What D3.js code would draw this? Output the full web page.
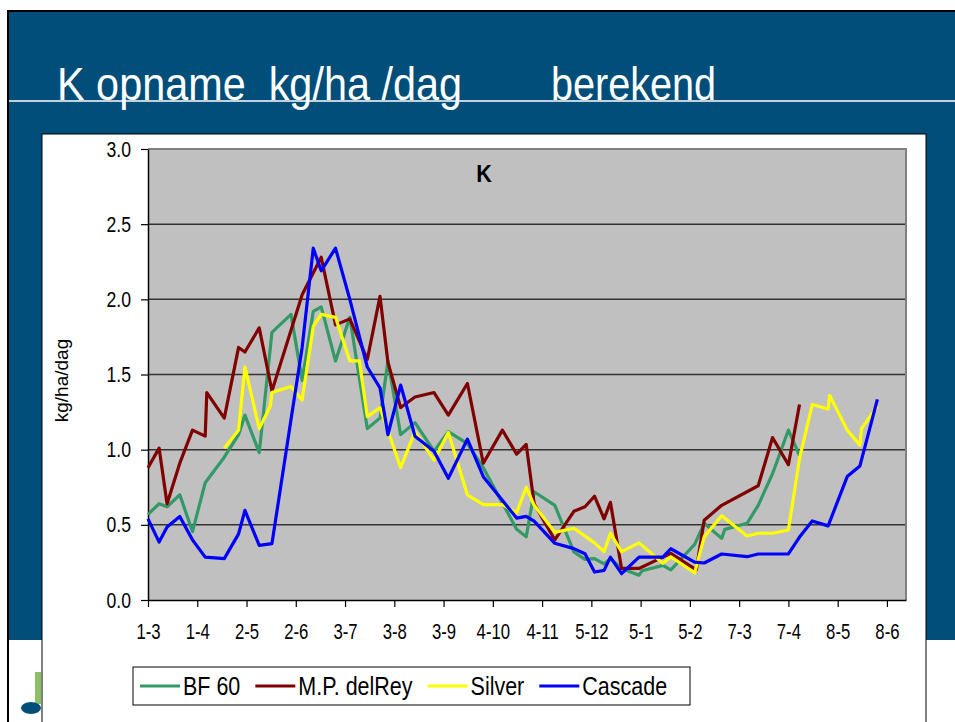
<!DOCTYPE html>
<html>
<head>
<meta charset="utf-8">
<script src="https://cdn.jsdelivr.net/npm/d3@7"></script>
<style>
  body { margin: 0; background: #ffffff; }
  svg { display: block; }
</style>
</head>
<body>
<div id="k_chart"></div>
<script>
// series, [date, kg/ha/dag]
const bf60 = [
    ['2007-03-01', 0.57], ['2007-03-08', 0.64], ['2007-03-13', 0.62], ['2007-03-21', 0.70],
    ['2007-03-29', 0.455], ['2007-04-06', 0.78], ['2007-04-18', 0.95], ['2007-04-27', 1.10],
    ['2007-05-01', 1.23], ['2007-05-10', 0.98], ['2007-05-18', 1.78], ['2007-05-30', 1.90],
    ['2007-06-06', 1.46], ['2007-06-13', 1.92], ['2007-06-18', 1.95], ['2007-06-27', 1.59],
    ['2007-07-06', 1.88], ['2007-07-17', 1.14], ['2007-07-25', 1.21], ['2007-07-30', 1.59],
    ['2007-08-07', 1.10], ['2007-08-16', 1.18], ['2007-08-28', 0.99], ['2007-09-06', 1.12],
    ['2007-09-18', 1.04], ['2007-09-28', 0.88], ['2007-10-19', 0.47], ['2007-10-25', 0.42],
    ['2007-10-30', 0.72], ['2007-11-12', 0.63], ['2007-11-24', 0.32], ['2007-12-01', 0.27],
    ['2007-12-07', 0.275], ['2007-12-13', 0.24], ['2007-12-17', 0.275], ['2007-12-24', 0.21],
    ['2008-01-04', 0.165], ['2008-01-06', 0.195], ['2008-01-19', 0.23], ['2008-01-24', 0.20],
    ['2008-02-08', 0.37], ['2008-02-14', 0.51], ['2008-02-25', 0.41], ['2008-02-27', 0.47],
    ['2008-03-12', 0.51], ['2008-03-19', 0.63], ['2008-03-28', 0.84], ['2008-04-07', 1.13],
    ['2008-04-14', 0.96]
];

const delRey = [
    ['2007-03-01', 0.88], ['2007-03-08', 1.01], ['2007-03-13', 0.64], ['2007-03-21', 0.91],
    ['2007-03-29', 1.13], ['2007-04-06', 1.09], ['2007-04-07', 1.38], ['2007-04-18', 1.21],
    ['2007-04-27', 1.68], ['2007-05-01', 1.65], ['2007-05-10', 1.81], ['2007-05-18', 1.39],
    ['2007-06-06', 2.03], ['2007-06-18', 2.28], ['2007-06-27', 1.83], ['2007-07-06', 1.87],
    ['2007-07-17', 1.60], ['2007-07-25', 2.02], ['2007-07-30', 1.58], ['2007-08-07', 1.28],
    ['2007-08-16', 1.35], ['2007-08-28', 1.38], ['2007-09-06', 1.23], ['2007-09-18', 1.44],
    ['2007-09-28', 0.91], ['2007-10-10', 1.13], ['2007-10-19', 0.97], ['2007-10-25', 1.035],
    ['2007-10-30', 0.64], ['2007-11-12', 0.40], ['2007-11-24', 0.59], ['2007-12-01', 0.62],
    ['2007-12-07', 0.69], ['2007-12-13', 0.54], ['2007-12-17', 0.65], ['2007-12-24', 0.21],
    ['2008-01-04', 0.21], ['2008-01-13', 0.255], ['2008-01-24', 0.31], ['2008-02-09', 0.20],
    ['2008-02-14', 0.53], ['2008-02-25', 0.63], ['2008-03-19', 0.76], ['2008-03-28', 1.08],
    ['2008-04-07', 0.90], ['2008-04-14', 1.30]
];

const silver = [
    ['2007-04-18', 1.01], ['2007-04-27', 1.13], ['2007-05-01', 1.55], ['2007-05-10', 1.14],
    ['2007-05-17', 1.29], ['2007-05-18', 1.38], ['2007-05-30', 1.42], ['2007-06-06', 1.33],
    ['2007-06-13', 1.82], ['2007-06-18', 1.90], ['2007-06-27', 1.88], ['2007-07-06', 1.59],
    ['2007-07-12', 1.59], ['2007-07-17', 1.22], ['2007-07-25', 1.28], ['2007-08-07', 0.88],
    ['2007-08-16', 1.12], ['2007-08-28', 0.93], ['2007-09-06', 1.115], ['2007-09-18', 0.70],
    ['2007-09-28', 0.635], ['2007-10-10', 0.635], ['2007-10-19', 0.58], ['2007-10-25', 0.75],
    ['2007-10-30', 0.63], ['2007-11-12', 0.45], ['2007-11-24', 0.477], ['2007-12-07', 0.38],
    ['2007-12-13', 0.322], ['2007-12-17', 0.444], ['2007-12-24', 0.322], ['2008-01-04', 0.38],
    ['2008-01-19', 0.244], ['2008-01-24', 0.288], ['2008-02-08', 0.18], ['2008-02-14', 0.42],
    ['2008-02-25', 0.56], ['2008-03-12', 0.426], ['2008-03-19', 0.444], ['2008-03-28', 0.444],
    ['2008-04-07', 0.466], ['2008-04-14', 0.94], ['2008-04-22', 1.30], ['2008-05-02', 1.27],
    ['2008-05-03', 1.36], ['2008-05-14', 1.13], ['2008-05-22', 1.03], ['2008-05-23', 1.14],
    ['2008-06-02', 1.29]
];

const cascade = [
    ['2007-03-01', 0.54], ['2007-03-08', 0.385], ['2007-03-13', 0.485], ['2007-03-21', 0.556],
    ['2007-03-29', 0.40], ['2007-04-06', 0.285], ['2007-04-18', 0.275], ['2007-04-27', 0.44],
    ['2007-05-01', 0.596], ['2007-05-10', 0.363], ['2007-05-18', 0.375], ['2007-05-30', 1.20],
    ['2007-06-06', 1.68], ['2007-06-13', 2.34], ['2007-06-18', 2.19], ['2007-06-27', 2.34],
    ['2007-07-06', 2.00], ['2007-07-17', 1.55], ['2007-07-25', 1.41], ['2007-07-30', 1.10],
    ['2007-08-07', 1.43], ['2007-08-16', 1.09], ['2007-08-28', 0.99], ['2007-09-06', 0.81],
    ['2007-09-18', 1.07], ['2007-09-28', 0.82], ['2007-10-19', 0.545], ['2007-10-25', 0.556],
    ['2007-10-30', 0.525], ['2007-11-12', 0.377], ['2007-11-24', 0.342], ['2007-12-01', 0.308],
    ['2007-12-07', 0.186], ['2007-12-13', 0.197], ['2007-12-17', 0.285], ['2007-12-24', 0.175],
    ['2008-01-04', 0.285], ['2008-01-19', 0.285], ['2008-01-24', 0.341], ['2008-02-08', 0.252],
    ['2008-02-14', 0.246], ['2008-02-25', 0.306], ['2008-03-12', 0.288], ['2008-03-19', 0.306],
    ['2008-04-07', 0.306], ['2008-04-14', 0.419], ['2008-04-22', 0.526], ['2008-05-02', 0.493],
    ['2008-05-14', 0.821], ['2008-05-22', 0.892], ['2008-06-02', 1.335]
];

const seriesNames = ['BF 60', 'M.P. delRey', 'Silver', 'Cascade'];
const seriesValues = [bf60, delRey, silver, cascade];
const seriesColors = ['#339966', '#800000', '#FFFF00', '#0000FF'];

const tickDates = ['2007-03-01', '2007-04-01', '2007-05-02', '2007-06-02', '2007-07-03', '2007-08-03',
    '2007-09-03', '2007-10-04', '2007-11-04', '2007-12-05', '2008-01-05', '2008-02-05',
    '2008-03-07', '2008-04-07', '2008-05-08', '2008-06-08'];
const tickLabels = ['1-3', '1-4', '2-5', '2-6', '3-7', '3-8', '3-9', '4-10', '4-11', '5-12', '5-1',
    '5-2', '7-3', '7-4', '8-5', '8-6'];
const xDomain = ['2007-03-01', '2008-06-20'];
const yTicks = [0, 0.5, 1, 1.5, 2, 2.5, 3];

const slideTitle = 'K opname  kg/ha /dag';
const slideTitle2 = 'berekend';
const chartTitle = 'K';
const yAxisTitle = 'kg/ha/dag';

displayKChart('k_chart');

function displayKChart(divId) {
    const svgWidth = 955;
    const svgHeight = 722;

    const plotLeft = 148;
    const plotRight = 906;
    const plotTop = 149;
    const plotBottom = 600;

    // the slide text is tall and narrow; squeeze a normal sans to get that look
    const textFont = '"Liberation Sans", Arial, sans-serif';
    const squeeze = 0.76;
    const legendSqueeze = 0.86;
    const parseDate = d3.utcParse('%Y-%m-%d');

    const svg = d3.select('#' + divId)
        .append('svg')
        .attr('width', svgWidth)
        .attr('height', svgHeight);

    // slide background
    svg.append('rect')
        .attr('x', 8)
        .attr('y', 12)
        .attr('width', svgWidth - 8)
        .attr('height', 628)
        .attr('fill', '#004E79');

    svg.append('line')
        .attr('x1', 7).attr('x2', svgWidth)
        .attr('y1', 11).attr('y2', 11)
        .attr('stroke', '#000').attr('stroke-width', 2);

    svg.append('line')
        .attr('x1', 8).attr('x2', 8)
        .attr('y1', 11).attr('y2', svgHeight)
        .attr('stroke', '#000').attr('stroke-width', 2);

    svg.append('line')
        .attr('x1', 9).attr('x2', svgWidth)
        .attr('y1', 101).attr('y2', 101)
        .attr('stroke', '#ffffff').attr('stroke-width', 1.5);

    svg.append('text')
        .attr('x', 57)
        .attr('y', 100)
        .attr('font-family', textFont)
        .attr('font-size', 46)
        .attr('fill', '#ffffff')
        .attr('textLength', 405)
        .attr('lengthAdjust', 'spacingAndGlyphs')
        .style('white-space', 'pre')
        .text(slideTitle);

    svg.append('text')
        .attr('x', 551)
        .attr('y', 100)
        .attr('font-family', textFont)
        .attr('font-size', 46)
        .attr('fill', '#ffffff')
        .attr('textLength', 165)
        .attr('lengthAdjust', 'spacingAndGlyphs')
        .text(slideTitle2);

    // logo stub at the bottom left
    svg.append('rect')
        .attr('x', 35).attr('y', 672)
        .attr('width', 6).attr('height', 32)
        .attr('fill', '#8DC063');
    svg.append('ellipse')
        .attr('cx', 31).attr('cy', 708)
        .attr('rx', 10).attr('ry', 6)
        .attr('fill', '#004E79');

    // chart box
    svg.append('rect')
        .attr('x', 42)
        .attr('y', 134)
        .attr('width', 884)
        .attr('height', 600)
        .attr('fill', '#ffffff')
        .attr('stroke', '#000')
        .attr('stroke-width', 1);

    const x = d3.scaleUtc()
        .domain(xDomain.map(parseDate))
        .range([plotLeft, plotRight]);

    const y = d3.scaleLinear()
        .domain([0, 3])
        .range([plotBottom, plotTop]);

    svg.append('rect')
        .attr('x', plotLeft)
        .attr('y', plotTop)
        .attr('width', plotRight - plotLeft)
        .attr('height', plotBottom - plotTop)
        .attr('fill', '#C0C0C0');

    svg.append('g')
        .selectAll('line')
        .data(yTicks.filter(v => v > 0 && v < 3))
        .join('line')
            .attr('x1', plotLeft)
            .attr('x2', plotRight)
            .attr('y1', d => y(d))
            .attr('y2', d => y(d))
            .attr('stroke', '#333333')
            .attr('stroke-width', 1.5);

    // top and right border of the plot area
    svg.append('path')
        .attr('d', `M${plotLeft},${plotTop}H${plotRight}V${plotBottom}`)
        .attr('fill', 'none')
        .attr('stroke', '#808080')
        .attr('stroke-width', 2);

    const xAxis = svg.append('g')
        .attr('transform', `translate(0, ${plotBottom})`)
        .call(d3.axisBottom(x)
            .tickValues(tickDates.map(parseDate))
            .tickFormat((d, i) => tickLabels[i])
            .tickSizeInner(7)
            .tickSizeOuter(0)
            .tickPadding(16));

    xAxis.select('.domain').attr('stroke', '#000').attr('stroke-width', 1.5);
    xAxis.selectAll('.tick line').attr('stroke', '#000').attr('stroke-width', 1.2);
    xAxis.selectAll('.tick text')
        .attr('font-family', textFont)
        .attr('font-size', 22)
        .attr('fill', '#000')
        .attr('transform', `scale(${squeeze}, 1)`);

    const yAxis = svg.append('g')
        .attr('transform', `translate(${plotLeft}, 0)`)
        .call(d3.axisLeft(y)
            .tickValues(yTicks)
            .tickFormat(d3.format('.1f'))
            .tickSizeInner(7)
            .tickSizeOuter(0)
            .tickPadding(10));

    yAxis.select('.domain').attr('stroke', '#000').attr('stroke-width', 1.5);
    yAxis.selectAll('.tick line').attr('stroke', '#000').attr('stroke-width', 1.2);
    yAxis.selectAll('.tick text')
        .attr('font-family', textFont)
        .attr('font-size', 22)
        .attr('fill', '#000')
        .attr('x', -17 / 0.8)
        .attr('transform', 'scale(0.8, 1)');

    svg.append('text')
        .attr('transform', `translate(68, ${(plotTop + plotBottom) / 2 + 6}) rotate(-90)`)
        .attr('text-anchor', 'middle')
        .attr('font-family', textFont)
        .attr('font-size', 19)
        .attr('fill', '#000')
        .text(yAxisTitle);

    svg.append('text')
        .attr('transform', `translate(484, 182) scale(0.9, 1)`)
        .attr('text-anchor', 'middle')
        .attr('font-family', textFont)
        .attr('font-weight', 'bold')
        .attr('font-size', 24)
        .attr('fill', '#000')
        .text(chartTitle);

    const line = d3.line()
        .x(d => x(parseDate(d[0])))
        .y(d => y(d[1]));

    svg.append('g')
        .selectAll('path')
        .data(seriesValues)
        .join('path')
            .attr('d', d => line(d))
            .attr('fill', 'none')
            .attr('stroke', (d, i) => seriesColors[i])
            .attr('stroke-width', 3.2)
            .attr('stroke-linejoin', 'round');

    // legend
    const legend = svg.append('g');

    legend.append('rect')
        .attr('x', 133)
        .attr('y', 667)
        .attr('width', 557)
        .attr('height', 38)
        .attr('fill', '#ffffff')
        .attr('stroke', '#000')
        .attr('stroke-width', 1);

    let legendX = 140;
    seriesNames.forEach((name, i) => {
        legend.append('line')
            .attr('x1', legendX)
            .attr('x2', legendX + 40)
            .attr('y1', 686)
            .attr('y2', 686)
            .attr('stroke', seriesColors[i])
            .attr('stroke-width', 3.2);

        const label = legend.append('text')
            .attr('transform', `translate(${legendX + 43}, 695) scale(${legendSqueeze}, 1)`)
            .attr('font-family', textFont)
            .attr('font-size', 25)
            .attr('fill', '#000')
            .text(name);

        legendX += 43 + label.node().getComputedTextLength() * legendSqueeze + 15;
    });
}
</script>
</body>
</html>
